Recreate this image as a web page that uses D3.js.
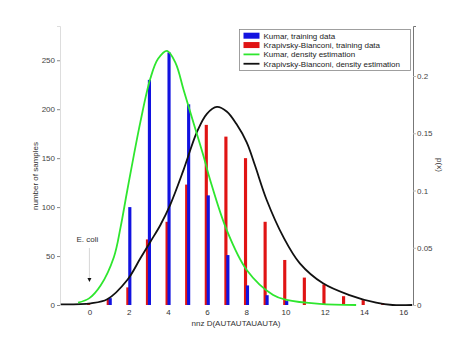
<!DOCTYPE html>
<html>
<head>
<meta charset="utf-8">
<script src="https://cdn.jsdelivr.net/npm/d3@7"></script>
<style>
  body { margin: 0; background: #fff; }
  text { font-family: "Liberation Sans", Arial, sans-serif; }
</style>
</head>
<body>
<div id="chart"></div>
<script>
// bar counts per nnz value
const nnz = d3.range(0, 17);
const kumarCounts = [0, 7, 100, 230, 258, 205, 112, 51, 20, 10, 4, 0, 0, 0, 0, 0, 0];
const kbCounts = [1, 6, 18, 67, 85, 123, 184, 172, 150, 85, 46, 28, 21, 9, 5, 2, 0];

// density estimation curves [x, p]
const kumarDensity = [
  [-0.58, 0.002], [0.0, 0.006], [0.57, 0.017], [1.25, 0.042], [1.59, 0.068], [1.93, 0.1],
  [2.6, 0.16], [3.11, 0.198], [3.5, 0.215], [3.96, 0.222], [4.4, 0.211], [4.8, 0.188],
  [5.31, 0.159], [5.82, 0.13], [6.16, 0.109], [7.0, 0.0655], [8.02, 0.0306], [9.37, 0.0087],
  [10.05, 0.0044], [11.74, 0.0009], [13.6, 0.0]
];
const kbDensity = [
  [-1.46, 0.0006], [0.07, 0.0015], [0.91, 0.005], [1.93, 0.0218], [2.6, 0.0408],
  [3.11, 0.0553], [3.62, 0.0699], [4.13, 0.0879], [4.8, 0.118], [5.48, 0.151],
  [5.99, 0.167], [6.5, 0.173], [7.0, 0.169], [7.5, 0.158], [8.02, 0.142], [8.44, 0.122],
  [9.04, 0.0917], [9.88, 0.0597], [10.73, 0.0364], [11.91, 0.019], [13.26, 0.0087],
  [14.62, 0.002], [15.46, 0.0], [16.46, 0.0]
];

const xTicks = [0, 2, 4, 6, 8, 10, 12, 14, 16];
const yLeftTicks = [0, 50, 100, 150, 200, 250];
const yRightTicks = [0, 0.05, 0.1, 0.15, 0.2];

const legendItems = [
  { label: "Kumar, training data", color: "#1212e0", type: "rect" },
  { label: "Krapivsky-Bianconi, training data", color: "#e01414", type: "rect" },
  { label: "Kumar, density estimation", color: "#2ee62e", type: "line" },
  { label: "Krapivsky-Bianconi, density estimation", color: "#111", type: "line" }
];

const width = 457, height = 343;
const plotLeft = 60, plotRight = 413, plotTop = 26, plotBottom = 305;

const svg = d3.select("#chart").append("svg")
  .attr("width", width)
  .attr("height", height);

const x = d3.scaleLinear().domain([-1.5, 16.5]).range([plotLeft, plotRight]);
const yL = d3.scaleLinear().domain([0, 285]).range([plotBottom, plotTop]);
const yR = d3.scaleLinear().domain([0, 0.2437]).range([plotBottom, plotTop]);

// axes
const axL = svg.append("g").attr("transform", `translate(${plotLeft},0)`)
  .call(d3.axisLeft(yL).tickValues(yLeftTicks).tickSize(3).tickPadding(2));
axL.select(".domain").attr("stroke", "#ddd");
axL.selectAll(".tick line").attr("stroke", "#888");
axL.selectAll(".tick text").attr("fill", "#444").style("font-size", "8px");

const axR = svg.append("g").attr("transform", `translate(${plotRight},0)`)
  .call(d3.axisRight(yR).tickValues(yRightTicks).tickSize(3).tickPadding(1)
    .tickFormat(d => d === 0 ? "0" : String(d)));
axR.select(".domain").attr("stroke", "#777");
axR.selectAll(".tick line").attr("stroke", "#bbb");
axR.selectAll(".tick text").attr("fill", "#444").style("font-size", "8px");

const axB = svg.append("g").attr("transform", `translate(0,${plotBottom})`)
  .call(d3.axisBottom(x).tickValues(xTicks).tickSize(0).tickPadding(4));
axB.select(".domain").remove();
axB.selectAll(".tick text").attr("fill", "#333").style("font-size", "8px");

// bars
const barW = x(0.16) - x(0);
svg.append("g").selectAll("rect")
  .data(nnz.filter((d, i) => kbCounts[i] > 0))
  .join("rect")
  .attr("x", d => x(d - 0.12))
  .attr("width", barW)
  .attr("y", d => yL(kbCounts[d]))
  .attr("height", d => plotBottom - yL(kbCounts[d]))
  .attr("fill", legendItems[1].color);

svg.append("g").selectAll("rect")
  .data(nnz.filter((d, i) => kumarCounts[i] > 0))
  .join("rect")
  .attr("x", d => x(d - 0.02))
  .attr("width", barW)
  .attr("y", d => yL(kumarCounts[d]))
  .attr("height", d => plotBottom - yL(kumarCounts[d]))
  .attr("fill", legendItems[0].color);

// density curves
const line = d3.line()
  .x(d => x(d[0]))
  .y(d => yR(d[1]))
  .curve(d3.curveCatmullRom.alpha(0.5));

svg.append("path").datum(kbDensity)
  .attr("d", line)
  .attr("fill", "none")
  .attr("stroke", legendItems[3].color)
  .attr("stroke-width", 1.8);

svg.append("path").datum(kumarDensity)
  .attr("d", line)
  .attr("fill", "none")
  .attr("stroke", legendItems[2].color)
  .attr("stroke-width", 1.8);

// E. coli annotation
svg.append("text")
  .attr("x", x(0) - 2)
  .attr("y", 242)
  .attr("text-anchor", "middle")
  .attr("fill", "#333")
  .style("font-size", "8px")
  .text("E. coli");
svg.append("line")
  .attr("x1", x(0)).attr("x2", x(0))
  .attr("y1", 248).attr("y2", 279)
  .attr("stroke", "#ccc")
  .attr("stroke-width", 0.8);
svg.append("path")
  .attr("d", `M${x(0) - 2},278 L${x(0) + 2},278 L${x(0)},282 Z`)
  .attr("fill", "#111");

// axis titles
svg.append("text")
  .attr("transform", "translate(38,176) rotate(-90)")
  .attr("text-anchor", "middle")
  .attr("fill", "#333")
  .style("font-size", "8px")
  .text("number of samples");

svg.append("text")
  .attr("transform", "translate(437,165) rotate(90)")
  .attr("text-anchor", "middle")
  .attr("fill", "#333")
  .style("font-size", "8px")
  .text("p(x)");

svg.append("text")
  .attr("x", 236)
  .attr("y", 326)
  .attr("text-anchor", "middle")
  .attr("fill", "#333")
  .style("font-size", "8px")
  .text("nnz D(AUTAUTAUAUTA)");

// legend
const lg = svg.append("g");
lg.append("rect")
  .attr("x", 239.5).attr("y", 29.5)
  .attr("width", 171).attr("height", 41)
  .attr("fill", "#fff")
  .attr("stroke", "#888")
  .attr("stroke-width", 0.8);

legendItems.forEach((item, i) => {
  const cy = 35.7 + i * 9.35;
  if (item.type === "rect") {
    lg.append("rect")
      .attr("x", 243.5).attr("y", cy - 3)
      .attr("width", 16).attr("height", 6)
      .attr("fill", item.color);
  } else {
    lg.append("line")
      .attr("x1", 243.5).attr("x2", 259.5)
      .attr("y1", cy).attr("y2", cy)
      .attr("stroke", item.color)
      .attr("stroke-width", 1.8);
  }
  lg.append("text")
    .attr("x", 263.5)
    .attr("y", cy + 3)
    .attr("fill", "#222")
    .style("font-size", "8px")
    .text(item.label);
});
</script>
</body>
</html>
